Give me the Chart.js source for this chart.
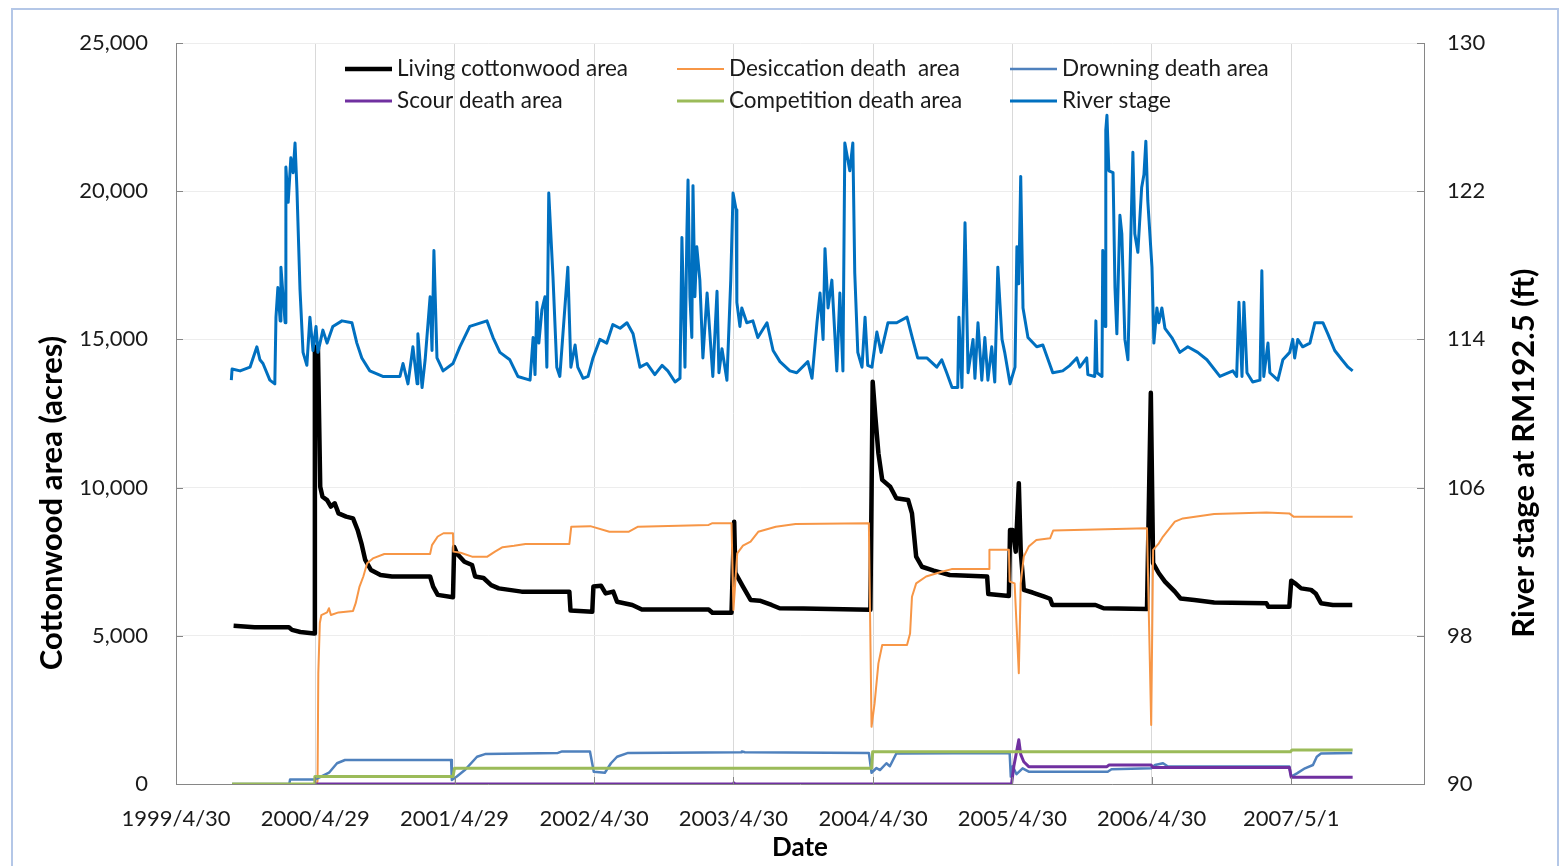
<!DOCTYPE html>
<html>
<head>
<meta charset="utf-8">
<title>Cottonwood area and river stage</title>
<script src="https://cdn.jsdelivr.net/npm/chart.js@4.4.0/dist/chart.umd.min.js"></script>
<style>
  body { margin: 0; background: #fff; }
  canvas { display: block; }
</style>
</head>
<body>
<canvas id="chart" width="1560" height="866"></canvas>
<script>
// x values are days since 1999/4/30
var tickDays = [0, 365, 730, 1096, 1461, 1827, 2192, 2557, 2923];
var tickLabels = ['1999/4/30', '2000/4/29', '2001/4/29', '2002/4/30', '2003/4/30', '2004/4/30', '2005/4/30', '2006/4/30', '2007/5/1'];

// [day, acres]
var livingArea = [[151,5340],[206,5290],[296,5285],[304,5200],[326,5130],[362,5080],[364,14750],[372,14700],[376,11600],[378,10030],[384,9690],[396,9580],[406,9360],[416,9470],[426,9130],[446,9020],[464,8960],[476,8570],[486,8120],[496,7560],[511,7220],[536,7050],[566,7000],[666,7000],[674,6660],[686,6380],[726,6300],[729,8000],[736,7780],[756,7500],[776,7390],[784,7000],[806,6950],[826,6710],[846,6600],[906,6490],[1031,6490],[1034,5850],[1091,5810],[1094,6660],[1114,6690],[1126,6430],[1146,6490],[1156,6150],[1196,6040],[1221,5890],[1396,5890],[1406,5780],[1456,5780],[1463,8850],[1466,7120],[1486,6660],[1506,6210],[1530,6185],[1561,6040],[1582,5930],[1644,5920],[1820,5880],[1826,13570],[1833,12390],[1841,11160],[1851,10260],[1872,10030],[1888,9640],[1919,9580],[1929,9130],[1940,7670],[1955,7330],[1986,7200],[2028,7050],[2126,7000],[2129,6410],[2183,6340],[2186,8570],[2193,8570],[2201,7840],[2209,10150],[2214,7860],[2222,6550],[2245,6460],[2276,6320],[2291,6250],[2297,6040],[2410,6040],[2431,5930],[2545,5900],[2555,13200],[2561,7450],[2576,7110],[2592,6830],[2618,6490],[2633,6260],[2669,6210],[2721,6120],[2858,6100],[2863,5980],[2918,5980],[2923,6860],[2933,6770],[2949,6600],[2975,6550],[2987,6430],[3001,6100],[3032,6040],[3083,6040]];

var desiccationArea = [[147,0],[368,0],[371,100],[373,3740],[377,5430],[381,5700],[396,5790],[401,5930],[406,5700],[426,5790],[464,5840],[471,6100],[481,6660],[491,7000],[501,7450],[516,7610],[546,7760],[666,7760],[671,8060],[686,8350],[701,8460],[726,8460],[727,7840],[746,7800],[776,7670],[816,7670],[836,7840],[856,7990],[886,8040],[916,8100],[1031,8100],[1036,8680],[1086,8700],[1136,8510],[1186,8510],[1211,8680],[1396,8740],[1406,8800],[1456,8800],[1461,5870],[1471,7780],[1486,8040],[1506,8180],[1526,8510],[1572,8680],[1624,8770],[1816,8800],[1823,1930],[1831,2720],[1841,4070],[1851,4690],[1916,4690],[1924,5080],[1929,6320],[1940,6770],[1966,7000],[2007,7160],[2033,7250],[2131,7250],[2132,7900],[2183,7900],[2185,6830],[2198,6770],[2209,3740],[2214,6770],[2222,7670],[2235,8010],[2255,8230],[2291,8290],[2299,8550],[2545,8630],[2556,1990],[2561,7900],[2576,8120],[2587,8350],[2618,8850],[2639,8960],[2721,9110],[2858,9160],[2918,9130],[2929,9020],[3084,9020]];

var drowningArea = [[147,0],[297,0],[299,150],[364,150],[380,250],[401,380],[422,700],[443,810],[721,810],[723,135],[736,250],[757,470],[789,920],[810,1010],[1001,1050],[1012,1100],[1085,1100],[1095,415],[1124,380],[1140,700],[1156,920],[1185,1050],[1481,1070],[1483,1100],[1491,1070],[1816,1050],[1823,380],[1836,540],[1845,470],[1862,700],[1871,600],[1888,1030],[2185,1050],[2188,250],[2193,600],[2203,330],[2219,530],[2235,415],[2442,415],[2452,500],[2556,530],[2566,640],[2587,700],[2600,590],[2918,590],[2923,250],[2938,360],[2959,530],[2980,640],[2990,920],[3001,1030],[3083,1045]];

var scourArea = [[364,0],[1460,0],[1462,40],[1465,0],[2190,0],[2196,600],[2209,1490],[2214,1000],[2222,750],[2235,585],[2440,585],[2445,640],[2556,640],[2560,560],[2918,560],[2923,225],[3084,225]];

var competitionArea = [[147,0],[362,0],[364,250],[726,250],[730,530],[1823,530],[1826,1090],[2921,1090],[2925,1150],[3084,1150]];

// [day, ft]
var riverStage = [[145,111.8],[147,112.4],[168,112.3],[194,112.5],[212,113.6],[220,112.9],[228,112.7],[246,111.8],[259,111.6],[262,115.2],[267,116.8],[273,115.0],[275,117.9],[286,114.9],[288,123.3],[294,121.4],[301,123.8],[307,123.0],[312,124.6],[317,122.1],[325,116.7],[333,113.3],[343,112.6],[351,115.2],[359,113.4],[367,114.7],[372,113.3],[385,114.5],[396,113.8],[411,114.7],[435,115.0],[461,114.9],[474,113.8],[487,113.0],[508,112.3],[542,112.0],[587,112.0],[595,112.7],[608,111.6],[621,113.6],[632,111.6],[634,114.3],[645,111.4],[653,112.9],[666,116.3],[671,113.4],[676,118.8],[684,113.0],[700,112.3],[726,112.7],[744,113.6],[770,114.7],[815,115.0],[831,114.1],[849,113.3],[875,112.9],[896,112.0],[928,111.8],[936,114.1],[941,112.1],[946,116.0],[951,113.8],[959,115.6],[967,116.3],[972,112.5],[977,121.9],[988,117.4],[998,112.5],[1006,112.0],[1027,117.9],[1035,112.5],[1046,113.7],[1053,112.5],[1067,111.9],[1080,112.0],[1093,113.0],[1111,114.0],[1129,113.8],[1145,114.8],[1164,114.6],[1182,114.9],[1198,114.3],[1216,112.5],[1234,112.7],[1255,112.1],[1274,112.6],[1289,112.3],[1308,111.7],[1321,111.9],[1326,119.5],[1334,112.5],[1339,119.7],[1342,122.6],[1347,116.3],[1352,114.1],[1355,122.3],[1360,116.3],[1365,119.0],[1373,117.2],[1381,113.0],[1392,116.5],[1407,112.0],[1418,116.6],[1423,112.2],[1431,113.5],[1444,111.8],[1454,117.2],[1460,121.9],[1468,121.0],[1470,116.0],[1478,114.7],[1483,115.7],[1496,114.9],[1512,115.0],[1525,114.1],[1549,114.9],[1565,113.4],[1583,112.8],[1609,112.3],[1627,112.2],[1656,112.8],[1667,111.9],[1680,114.9],[1688,116.5],[1696,114.0],[1701,118.9],[1709,115.7],[1719,117.2],[1732,112.3],[1740,116.5],[1748,112.3],[1753,124.6],[1766,123.1],[1774,124.6],[1779,117.6],[1787,113.3],[1798,112.5],[1806,115.2],[1813,112.6],[1824,112.5],[1837,114.4],[1848,113.3],[1866,114.9],[1889,114.9],[1916,115.2],[1931,114.0],[1944,113.0],[1968,113.0],[1994,112.5],[2007,112.9],[2020,112.2],[2034,111.4],[2049,111.4],[2052,115.2],[2060,111.4],[2068,120.3],[2076,112.2],[2089,114.0],[2094,111.9],[2102,114.9],[2112,111.8],[2120,114.1],[2128,111.8],[2138,113.6],[2146,111.7],[2154,117.9],[2165,114.0],[2172,113.3],[2186,111.6],[2199,112.5],[2204,119.0],[2209,117.0],[2214,122.8],[2220,115.7],[2233,114.1],[2256,113.6],[2272,113.7],[2298,112.2],[2324,112.3],[2343,112.6],[2361,113.0],[2369,112.5],[2387,113.0],[2390,112.1],[2408,112.0],[2411,115.0],[2414,112.2],[2427,112.0],[2429,118.8],[2435,114.7],[2437,125.3],[2440,126.1],[2445,123.1],[2456,123.0],[2461,116.8],[2466,114.3],[2474,120.7],[2479,119.7],[2487,114.0],[2495,112.9],[2500,117.4],[2508,124.1],[2513,119.7],[2521,118.7],[2531,122.2],[2537,122.9],[2542,124.7],[2547,121.5],[2558,117.9],[2563,113.8],[2571,115.7],[2576,114.9],[2584,115.7],[2592,114.6],[2610,114.1],[2631,113.3],[2652,113.6],[2678,113.3],[2702,112.9],[2736,112.0],[2770,112.3],[2780,112.0],[2786,116.0],[2794,112.0],[2799,116.0],[2807,112.2],[2822,111.7],[2841,111.8],[2846,117.7],[2851,112.0],[2862,113.8],[2867,112.2],[2888,111.8],[2901,112.9],[2919,113.3],[2927,114.0],[2932,113.0],[2940,114.0],[2953,113.6],[2972,113.8],[2985,114.9],[3006,114.9],[3019,114.3],[3037,113.4],[3056,112.9],[3072,112.5],[3084,112.3]];

var FONT = 'Lato';

function pts(arr) {
    return arr.map(function (p) { return { x: p[0], y: p[1] }; });
}

function series(label, arr, color, width, order, axis) {
    return {
        label: label,
        data: pts(arr),
        borderColor: color,
        backgroundColor: color,
        borderWidth: width,
        pointRadius: 0,
        tension: 0,
        borderJoinStyle: 'round',
        order: order,
        yAxisID: axis || 'y'
    };
}

var datasets = [
    series('Living cottonwood area', livingArea, '#000000', 4.5, 6),
    series('Desiccation death  area', desiccationArea, '#f79646', 2, 5),
    series('Drowning death area', drowningArea, '#4f81bd', 2.5, 4),
    series('Scour death area', scourArea, '#7030a0', 3, 3),
    series('Competition death area', competitionArea, '#9bbb59', 3, 2),
    series('River stage', riverStage, '#0070c0', 3, 1, 'y2')
];

// legend grid: 3 columns, 2 rows, drawn inside the plot
var legendCols = [345, 677, 1010];
var legendRows = [69, 101];

var decor = {
    id: 'decor',
    beforeDraw: function (chart) {
        var ctx = chart.ctx;
        ctx.save();
        ctx.fillStyle = '#ffffff';
        ctx.fillRect(0, 0, chart.width, chart.height);
        ctx.strokeStyle = '#b4c7e7';
        ctx.lineWidth = 2;
        ctx.strokeRect(12, 9, 1546, 880);
        ctx.restore();
    },
    afterDraw: function (chart) {
        var ctx = chart.ctx;
        var a = chart.chartArea;
        var sx = chart.scales.x, sy = chart.scales.y, sy2 = chart.scales.y2;
        ctx.save();

        // small inward tick marks
        ctx.strokeStyle = '#868686';
        ctx.lineWidth = 1;
        ctx.beginPath();
        sy.ticks.forEach(function (t) {
            var y = Math.round(sy.getPixelForValue(t.value)) + 0.5;
            ctx.moveTo(a.left, y); ctx.lineTo(a.left + 7, y);
        });
        sy2.ticks.forEach(function (t) {
            var y = Math.round(sy2.getPixelForValue(t.value)) + 0.5;
            ctx.moveTo(a.right, y); ctx.lineTo(a.right - 7, y);
        });
        sx.ticks.forEach(function (t) {
            var x = Math.round(sx.getPixelForValue(t.value)) + 0.5;
            ctx.moveTo(x, a.bottom); ctx.lineTo(x, a.bottom - 7);
        });
        ctx.stroke();

        // axis titles
        ctx.fillStyle = '#000000';
        ctx.textAlign = 'center';
        ctx.textBaseline = 'middle';
        ctx.font = 'bold 26px ' + FONT;
        ctx.fillText('Date', (a.left + a.right) / 2, 848);
        ctx.font = 'bold 31px ' + FONT;
        ctx.save();
        ctx.translate(52, 503);
        ctx.rotate(-Math.PI / 2);
        ctx.fillText('Cottonwood area (acres)', 0, 0);
        ctx.restore();
        ctx.save();
        ctx.translate(1524, 453);
        ctx.rotate(-Math.PI / 2);
        ctx.fillText('River stage at RM192.5 (ft)', 0, 0);
        ctx.restore();

        // legend
        ctx.font = '22.5px ' + FONT;
        ctx.textAlign = 'left';
        ctx.fillStyle = '#1a1a1a';
        chart.data.datasets.forEach(function (ds, i) {
            var x = legendCols[i % 3];
            var y = legendRows[Math.floor(i / 3)];
            ctx.strokeStyle = ds.borderColor;
            ctx.lineWidth = ds.borderWidth;
            ctx.beginPath();
            ctx.moveTo(x, y);
            ctx.lineTo(x + 47, y);
            ctx.stroke();
            ctx.fillText(ds.label, x + 52, y);
        });
        ctx.restore();
    }
};

Chart.defaults.font.family = FONT;
Chart.defaults.font.size = 22;
Chart.defaults.color = '#1a1a1a';

var chart = new Chart(document.getElementById('chart').getContext('2d'), {
    type: 'line',
    data: { datasets: datasets },
    plugins: [decor],
    options: {
        responsive: false,
        animation: false,
        layout: { padding: { top: 43, left: 0, right: 0, bottom: 0 } },
        plugins: {
            legend: { display: false },
            tooltip: { enabled: false }
        },
        scales: {
            x: {
                type: 'linear',
                min: 0,
                max: 3271,
                afterBuildTicks: function (s) {
                    s.ticks = tickDays.map(function (v) { return { value: v }; });
                },
                afterFit: function (s) { s.height = 82; },
                ticks: {
                    autoSkip: false,
                    maxRotation: 0,
                    padding: 22,
                    callback: function (v, i) { return tickLabels[i]; }
                },
                grid: { color: '#d9d9d9', drawTicks: false },
                border: { color: '#868686' }
            },
            y: {
                position: 'left',
                min: 0,
                max: 25000,
                afterFit: function (s) { s.width = 176; },
                ticks: {
                    stepSize: 5000,
                    padding: 28,
                    callback: function (v) { return v.toLocaleString('en-US'); }
                },
                grid: { color: '#ededed', drawTicks: false },
                border: { color: '#868686' }
            },
            y2: {
                position: 'right',
                min: 90,
                max: 130,
                afterFit: function (s) { s.width = 136; },
                ticks: { stepSize: 8, padding: 23 },
                grid: { display: false, drawTicks: false },
                border: { color: '#868686' }
            }
        }
    }
});
</script>
</body>
</html>
